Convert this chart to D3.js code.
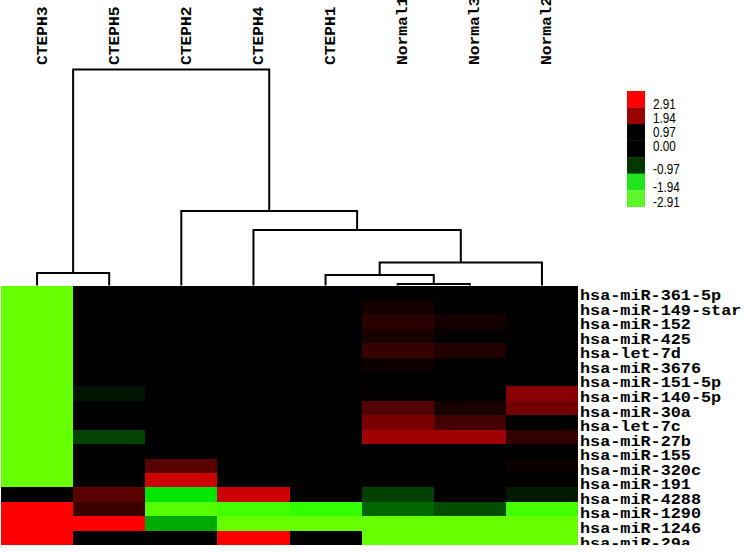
<!DOCTYPE html>
<html>
<head>
<meta charset="utf-8">
<script src="https://cdn.jsdelivr.net/npm/d3@7"></script>
<style>
  body { margin: 0; background: #fff; }
  svg { display: block; }
</style>
</head>
<body>
<div id="heatmap"></div>
<script>
// samples in dendrogram order
var samples = ["CTEPH3", "CTEPH5", "CTEPH2", "CTEPH4", "CTEPH1", "Normal1", "Normal3", "Normal2"];

var mirnas = ["hsa-miR-361-5p", "hsa-miR-149-star", "hsa-miR-152", "hsa-miR-425", "hsa-let-7d",
  "hsa-miR-3676", "hsa-miR-151-5p", "hsa-miR-140-5p", "hsa-miR-30a", "hsa-let-7c", "hsa-miR-27b",
  "hsa-miR-155", "hsa-miR-320c", "hsa-miR-191", "hsa-miR-4288", "hsa-miR-1290", "hsa-miR-1246", "hsa-miR-29a"];

// expression per sample, one value per miRNA (same order as mirnas)
var cteph3  = [-2.91, -2.91, -2.91, -2.91, -2.91, -2.91, -2.91, -2.91, -2.91, -2.91, -2.91, -2.91, -2.91, -2.91, 0, 2.91, 2.91, 2.91];
var cteph5  = [0, 0, 0, 0, 0, 0, 0, -0.16, 0, 0, -0.52, 0, 0, 0, 1.03, 0.68, 2.91, 0];
var cteph2  = [0, 0, 0, 0, 0, 0, 0, 0, 0, 0, 0, 0, 1.0, 2.33, -1.75, -2.75, -1.29, 0];
var cteph4  = [0, 0, 0, 0, 0, 0, 0, 0, 0, 0, 0, 0, 0, 0, 2.33, -2.59, -2.91, 2.91];
var cteph1  = [0, 0, 0, 0, 0, 0, 0, 0, 0, 0, 0, 0, 0, 0, 0, -2.42, -2.91, 0];
var normal1 = [0, 0.24, 0.51, 0.27, 0.62, 0.14, 0, 0.05, 0.97, 1.39, 1.82, 0, 0, 0, -0.49, -0.78, -2.91, -2.91];
var normal3 = [0, 0, 0.23, 0.06, 0.39, 0, 0, 0, 0.25, 0.77, 1.82, 0, 0, 0, 0, -0.59, -2.91, -2.91];
var normal2 = [0, 0, 0, 0, 0, 0, 0, 1.55, 1.3, 0, 0.58, 0, 0.15, 0, -0.2, -2.59, -2.91, -2.91];
var series = [cteph3, cteph5, cteph2, cteph4, cteph1, normal1, normal3, normal2];

// hierarchical clustering merges: [left, right, height]; numbers are earlier merges, strings are leaves
var merges = [
  ["Normal1", "Normal3", 0.15],
  ["CTEPH1", 0, 1.05],
  [1, "Normal2", 2.3],
  ["CTEPH4", 2, 5.55],
  ["CTEPH2", 3, 7.45],
  ["CTEPH3", "CTEPH5", 1.25],
  [5, 4, 21.6]
];

var legendTicks = ["2.91", "1.94", "0.97", "0.00", "-0.97", "-1.94", "-2.91"];

// legend look (swatch colours and label baselines as printed in the figure)
var legendColors = ["#ff0000", "#990000", "#000000", "#000000", "#003800", "#1fe51f", "#5ef52a"];
var legendLabelY = [109.3, 123.3, 137.3, 150.7, 174, 191.7, 206.7];

var svgWidth = 750;
var svgHeight = 554;

var svg = d3.select("#heatmap")
  .append("svg")
  .attr("width", svgWidth)
  .attr("height", svgHeight);

svg.append("rect").attr("width", svgWidth).attr("height", svgHeight).attr("fill", "#fff");

var heatTop = 285.5, heatBottom = 545, heatLeft = 1, heatRight = 578;

var xScale = d3.scaleBand().domain(samples).range([heatLeft, heatRight]);
var yScale = d3.scaleBand().domain(mirnas).range([heatTop, heatBottom]);
// printed labels drift a little from the rows
var labelScale = d3.scaleBand().domain(mirnas).range([286, 548]);

var color = d3.scaleLinear()
  .domain([-2.91, -1.94, 0, 2.91])
  .range(["#66ff00", "#00ff00", "#000000", "#ff0000"])
  .clamp(true);

// cells
var cells = [];
samples.forEach(function(s, i) {
  mirnas.forEach(function(m, j) {
    cells.push({sample: s, mirna: m, value: series[i][j]});
  });
});

svg.append("g")
  .attr("shape-rendering", "crispEdges")
  .selectAll("rect")
  .data(cells)
  .enter()
  .append("rect")
  .attr("x", d => Math.round(xScale(d.sample)))
  .attr("y", d => Math.round(yScale(d.mirna)))
  .attr("width", d => Math.round(xScale(d.sample) + xScale.bandwidth()) - Math.round(xScale(d.sample)))
  .attr("height", d => Math.round(yScale(d.mirna) + yScale.bandwidth()) - Math.round(yScale(d.mirna)))
  .attr("fill", d => color(d.value));

// dendrogram
var hScale = d3.scaleLinear().domain([0, 21.6]).range([heatTop, 69.5]);
var nodes = merges.map(function() { return {}; });
function resolve(ref) {
  if (typeof ref === "string") return {x: xScale(ref) + xScale.bandwidth() / 2, h: 0};
  return nodes[ref];
}
var dendro = svg.append("g")
  .attr("fill", "none")
  .attr("stroke", "#000")
  .attr("stroke-width", 2);

merges.forEach(function(m, i) {
  var a = resolve(m[0]), b = resolve(m[1]);
  var y = hScale(m[2]);
  nodes[i].x = (a.x + b.x) / 2;
  nodes[i].h = m[2];
  var path = d3.path();
  path.moveTo(a.x, hScale(a.h));
  path.lineTo(a.x, y);
  path.lineTo(b.x, y);
  path.lineTo(b.x, hScale(b.h));
  dendro.append("path").attr("d", path.toString());
});

// sample labels (rotated)
svg.append("g")
  .selectAll("text")
  .data(samples)
  .enter()
  .append("text")
  .attr("transform", d => `translate(${xScale(d) + xScale.bandwidth() / 2 + 9.5}, 65) rotate(-90) scale(1.05, 1)`)
  .attr("font-family", "'Liberation Mono', 'DejaVu Sans Mono', monospace")
  .attr("font-weight", "bold")
  .attr("font-size", "15.5px")
  .attr("fill", "#000")
  .text(d => d);

// miRNA labels
svg.append("clipPath").attr("id", "labelclip")
  .append("rect").attr("x", 570).attr("y", 270).attr("width", 180).attr("height", 275);

svg.append("g")
  .attr("clip-path", "url(#labelclip)")
  .selectAll("text")
  .data(mirnas)
  .enter()
  .append("text")
  .attr("transform", d => `translate(580, ${labelScale(d) + labelScale.bandwidth() - 0.5}) scale(1.16, 1)`)
  .attr("font-family", "'Liberation Mono', 'DejaVu Sans Mono', monospace")
  .attr("font-weight", "bold")
  .attr("font-size", "14.5px")
  .attr("fill", "#000")
  .text(d => d);

// colour key
var keyScale = d3.scaleBand().domain(legendTicks).range([91, 206.7]);
var key = svg.append("g");

key.selectAll("rect")
  .data(legendTicks)
  .enter()
  .append("rect")
  .attr("x", 627)
  .attr("y", d => keyScale(d))
  .attr("width", 18)
  .attr("height", keyScale.bandwidth() + 0.3)
  .attr("fill", (d, i) => legendColors[i]);

key.selectAll("text")
  .data(legendTicks)
  .enter()
  .append("text")
  .attr("transform", (d, i) => `translate(653, ${legendLabelY[i]}) scale(0.84, 1)`)
  .attr("font-family", "'Liberation Sans', Arial, sans-serif")
  .attr("font-size", "14px")
  .attr("fill", "#000")
  .text(d => d);
</script>
</body>
</html>
